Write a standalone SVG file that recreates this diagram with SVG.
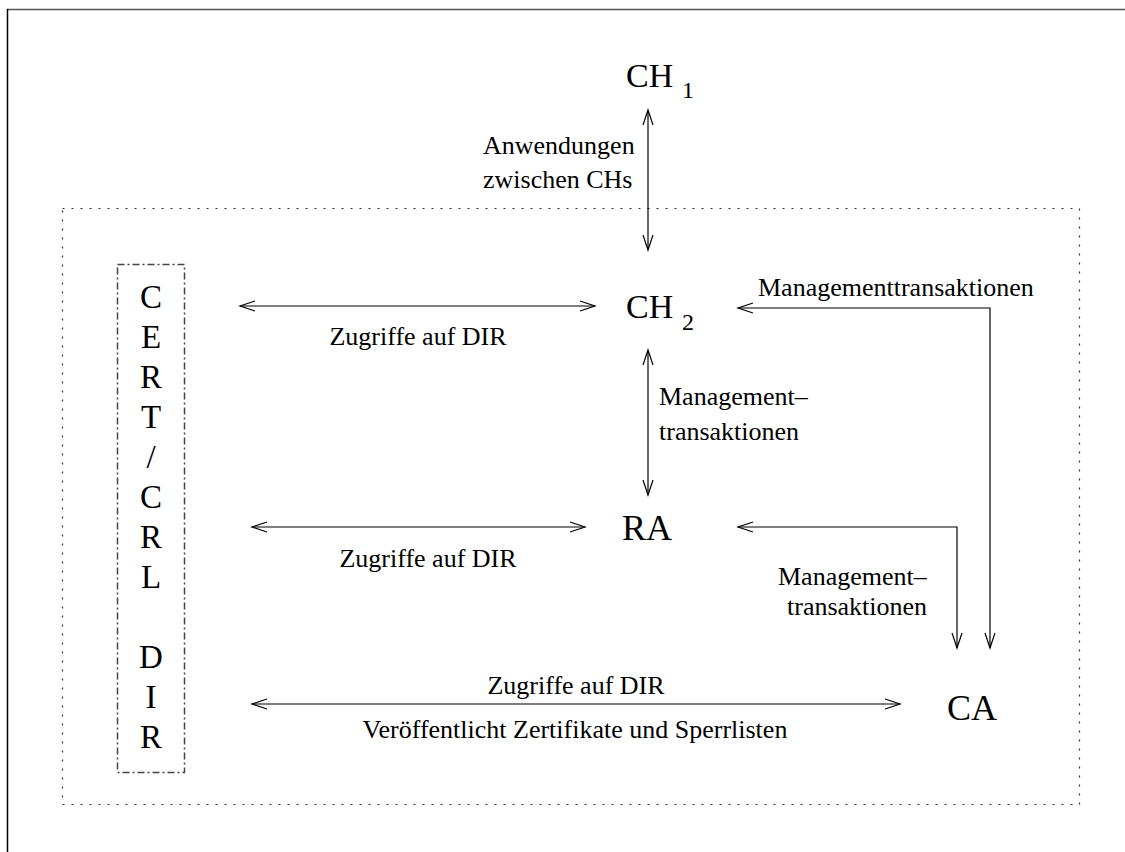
<svg xmlns="http://www.w3.org/2000/svg" width="1125" height="852" viewBox="0 0 1125 852">
  <style>
    .lbl { font-family: "Liberation Serif", "Times New Roman", serif; font-size: 26px; fill: #000; }
    .node { font-family: "Liberation Serif", "Times New Roman", serif; font-size: 34px; fill: #000; }
    .big { font-size: 36px; }
    .sub { font-family: "Liberation Serif", "Times New Roman", serif; font-size: 24px; fill: #000; }
    .vert { font-family: "Liberation Serif", "Times New Roman", serif; font-size: 33px; fill: #000; text-anchor: middle; }
    .conn { fill: none; stroke: #000; stroke-width: 1.2; }
  </style>
  <defs>
    <marker id="head" markerUnits="userSpaceOnUse" markerWidth="18" markerHeight="14" viewBox="0 0 18 14" refX="16" refY="7" orient="auto-start-reverse">
      <path d="M1,2 L16,7 L1,12" fill="none" stroke="#000" stroke-width="1.2"/>
    </marker>
  </defs>

  <!-- page frame -->
  <g id="frame">
    <line x1="7" y1="9.5" x2="1125" y2="9.5" stroke="#555" stroke-width="1.5"/>
    <line x1="7.5" y1="9" x2="7.5" y2="852" stroke="#000" stroke-width="1.5"/>
  </g>

  <!-- system boundary -->
  <g id="boundary">
    <rect x="62.5" y="208.5" width="1017" height="596" fill="none" stroke="#333" stroke-width="1.2" stroke-dasharray="2 7"/>
  </g>

  <!-- directory -->
  <g id="dir">
    <rect x="117.5" y="264.5" width="67" height="508" fill="none" stroke="#444" stroke-width="1.5" stroke-dasharray="7 3 2 3"/>
    <text class="vert" x="151" y="308">C</text>
    <text class="vert" x="151" y="348">E</text>
    <text class="vert" x="151" y="388">R</text>
    <text class="vert" x="151" y="428">T</text>
    <text class="vert" x="151" y="468">/</text>
    <text class="vert" x="151" y="508">C</text>
    <text class="vert" x="151" y="548">R</text>
    <text class="vert" x="151" y="588">L</text>
    <text class="vert" x="151" y="668">D</text>
    <text class="vert" x="151" y="708">I</text>
    <text class="vert" x="151" y="748">R</text>
  </g>

  <g id="ch1">
    <text class="node" x="626" y="87">CH</text>
    <text class="sub" x="682" y="98">1</text>
  </g>

  <g id="ch2">
    <text class="node" x="626" y="318">CH</text>
    <text class="sub" x="682" y="330">2</text>
  </g>

  <g id="ra">
    <text class="node big" x="622" y="540">RA</text>
  </g>

  <g id="ca">
    <text class="node big" x="947" y="720">CA</text>
  </g>

  <!-- connectors and their labels -->
  <g id="connectors">
    <line class="conn" x1="648" y1="110" x2="648" y2="250" marker-start="url(#head)" marker-end="url(#head)"/>
    <text class="lbl" x="483" y="154">Anwendungen</text>
    <text class="lbl" x="483" y="188">zwischen CHs</text>

    <line class="conn" x1="240" y1="306" x2="595" y2="306" marker-start="url(#head)" marker-end="url(#head)"/>
    <text class="lbl" x="418" y="345" text-anchor="middle">Zugriffe auf DIR</text>

    <line class="conn" x1="648" y1="350" x2="648" y2="495" marker-start="url(#head)" marker-end="url(#head)"/>
    <text class="lbl" x="659" y="405">Management–</text>
    <text class="lbl" x="659" y="440">transaktionen</text>

    <line class="conn" x1="252" y1="527" x2="585" y2="527" marker-start="url(#head)" marker-end="url(#head)"/>
    <text class="lbl" x="428" y="567" text-anchor="middle">Zugriffe auf DIR</text>

    <polyline class="conn" points="990,648 990,308 738,308" marker-start="url(#head)" marker-end="url(#head)"/>
    <text class="lbl" x="758" y="296">Managementtransaktionen</text>

    <polyline class="conn" points="957,648 957,527 738,527" marker-start="url(#head)" marker-end="url(#head)"/>
    <text class="lbl" x="778" y="585">Management–</text>
    <text class="lbl" x="787" y="615">transaktionen</text>

    <line class="conn" x1="252" y1="704" x2="900" y2="704" marker-start="url(#head)" marker-end="url(#head)"/>
    <text class="lbl" x="576" y="694" text-anchor="middle">Zugriffe auf DIR</text>
    <text class="lbl" x="575" y="738" text-anchor="middle">Veröffentlicht Zertifikate und Sperrlisten</text>
  </g>
</svg>
